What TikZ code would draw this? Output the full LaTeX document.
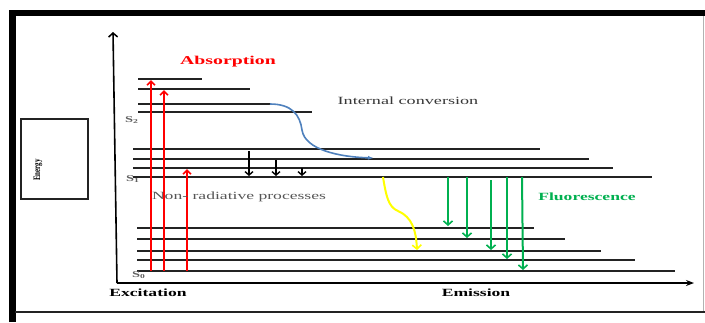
\documentclass[tikz,border=0pt]{standalone}
\usepackage{fontspec}
\setmainfont{Liberation Serif}
\usetikzlibrary{arrows.meta}
\definecolor{flgreen}{RGB}{0,176,80}
\definecolor{icblue}{RGB}{79,129,189}
\definecolor{nryellow}{RGB}{255,255,0}
\definecolor{lvl}{RGB}{35,35,35}
\definecolor{txtgray}{RGB}{55,55,55}
\newcommand{\widetxt}[2][1.6]{\scalebox{#1}[1]{#2}}
\begin{document}
\begin{tikzpicture}[x=1pt,y=-1pt,
  level/.style={draw=lvl,line width=1.3pt},
  absarrow/.style={draw=red,line width=2pt,-{Straight Barb[length=4pt,width=8pt,line width=1.6pt]}},
  nrarrow/.style={draw=black,line width=1.5pt,-{Straight Barb[length=3.5pt,width=8pt,line width=1.4pt]}},
  flarrow/.style={draw=flgreen,line width=2pt,-{Straight Barb[length=4pt,width=9pt,line width=1.6pt]}},
  lbl/.style={font=\fontsize{11}{13}\selectfont, inner sep=0pt},
  slbl/.style={font=\fontsize{9}{11}\selectfont\bfseries, text=txtgray!80, inner sep=0pt}
]
\useasboundingbox (0,0) rectangle (705,322);
\fill[white] (0,0) rectangle (705,322);

% frame
\draw[line width=6.5pt] (12.5,322) -- (12.5,13) -- (705,13);
\draw[draw=gray!60,line width=1pt] (703,16) -- (703,312);
\draw[draw=lvl,line width=1.5pt] (15,312) -- (705,312);

% energy box
\draw[draw=lvl,line width=1.3pt] (21,119) rectangle (88,199);
\node[font=\fontsize{7}{8}\selectfont\bfseries, rotate=90, inner sep=0pt] (energy) at (38,170) {\scalebox{1}[1.4]{Energy}};

% axes
\coordinate (origin) at (117,283);
\coordinate (ytop) at (113,32);
\coordinate (xend) at (694,283);
\draw[line width=1.6pt,-{Straight Barb[length=4pt,width=9pt,line width=1.5pt]}] (origin) -- (ytop);
\draw[line width=1.6pt,-{Stealth[length=8pt,width=6pt]}] (origin) -- (xend);

% S2 levels
\draw[level] (138,79) -- (202,79);
\draw[level] (138,89) -- (250,89);
\draw[level] (138,104) -- (270,104);
\draw[level] (138,112) -- (312,112);
% S1 levels
\draw[level] (133,149) -- (540,149);
\draw[level] (133,159) -- (589,159);
\draw[level] (133,168) -- (613,168);
\draw[level] (133,177) -- (652,177);
% S0 levels
\draw[level] (137,228) -- (534,228);
\draw[level] (137,239) -- (565,239);
\draw[level] (137,251) -- (601,251);
\draw[level] (137,260) -- (635,260);
\draw[level] (137,271) -- (675,271);

% labels for states
\node[slbl] (s2) at (132,120) {\widetxt[1.6]{S\textsubscript{2}}};
\node[slbl] (s1) at (133,179) {\widetxt[1.6]{S\textsubscript{1}}};
\node[slbl] (s0) at (139,275) {\widetxt[1.6]{S\textsubscript{0}}};

% absorption arrows
\draw[absarrow] (151,271) -- (151,80);
\draw[absarrow] (164,271) -- (164,90);
\draw[absarrow] (187,271) -- (187,169);

% non-radiative (vibrational) arrows
\draw[nrarrow] (249,151) -- (249,176);
\draw[nrarrow] (276,160) -- (276,176);
\draw[nrarrow] (302,168) -- (302,176);

% internal conversion curve
\coordinate (icstart) at (270,104);
\coordinate (icend) at (374,158);
\draw[draw=icblue,line width=1.6pt,-{Latex[length=6pt,width=4pt]}] (icstart) .. controls (292,104) and (300,115) .. (302,130) .. controls (305,150) and (340,157) .. (icend);

% yellow curve
\coordinate (ystart) at (383,177);
\coordinate (yend) at (417,250);
\draw[draw=nryellow,line width=2pt,-{Straight Barb[length=4pt,width=9pt,line width=1.6pt]}] (ystart) .. controls (386,195) and (388,207) .. (398,211) .. controls (412,217) and (416,230) .. (yend);

% fluorescence arrows
\draw[flarrow] (448,177) -- (448,226);
\draw[flarrow] (467,177) -- (467,238);
\draw[flarrow] (491,180) -- (491,250);
\draw[flarrow] (507,177) -- (507,259);
\draw[flarrow] (522,177) -- (523,270);

% texts
\node[font=\fontsize{12}{14}\selectfont\bfseries, text=red, inner sep=0pt] (absorption) at (228,62) {\widetxt[1.65]{Absorption}};
\node[lbl, text=txtgray] (ic) at (408,101) {\widetxt[1.65]{Internal conversion}};
\node[lbl, text=txtgray!85] (nr) at (239,197) {\widetxt{Non- radiative processes}};
\node[lbl, font=\fontsize{11}{13}\selectfont\bfseries, text=flgreen] (fl) at (587,197) {\widetxt{Fluorescence}};
\node[lbl, font=\fontsize{11}{13}\selectfont\bfseries] (exc) at (148,293) {\widetxt{Excitation}};
\node[lbl, font=\fontsize{11}{13}\selectfont\bfseries] (em) at (476,293) {\widetxt{Emission}};
\end{tikzpicture}
\end{document}
